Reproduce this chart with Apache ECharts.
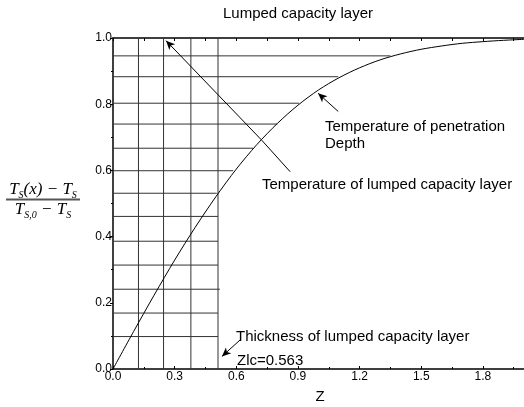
<!DOCTYPE html>
<html><head><meta charset="utf-8">
<script src="https://cdn.jsdelivr.net/npm/echarts@6/dist/echarts.min.js"></script>
<style>html,body{margin:0;padding:0;background:#fff}#c{width:524px;height:407px}</style>
</head><body><div id="c"></div>
<script>
// Curve: dimensionless temperature vs Z
const zValues     = [0, 0.1, 0.2, 0.3, 0.4, 0.5, 0.6, 0.7, 0.8, 0.9, 1.0, 1.1, 1.2, 1.3, 1.4, 1.5, 1.6, 1.7, 1.8, 1.9, 2.0];
const curveValues = [0, 0.113, 0.223, 0.329, 0.428, 0.520, 0.604, 0.678, 0.742, 0.797, 0.843, 0.880, 0.910, 0.934, 0.952, 0.966, 0.976, 0.984, 0.989, 0.993, 0.996];
// Vertical grid lines (Z positions)
const vLines = [0.124, 0.246, 0.379, 0.511];
// Horizontal grid lines: levels and where they stop on Z
const hLevels = [0.946, 0.883, 0.803, 0.740, 0.667, 0.599, 0.531, 0.461, 0.386, 0.314, 0.241, 0.169, 0.098];
const hEnds   = [1.350, 1.096, 0.905, 0.800, 0.682, 0.585, 0.505, 0.511, 0.511, 0.511, 0.520, 0.511, 0.511];
// Tick labels
const xTickLabels = ['0.0', '0.3', '0.6', '0.9', '1.2', '1.5', '1.8'];
const yTickLabels = ['0.0', '0.2', '0.4', '0.6', '0.8', '1.0'];
// Annotation arrows (data coordinates)
const lumpedPointer = [[0.862, 0.596], [0.724, 0.691], [0.258, 0.992]];
const penetrationArrow = [[1.096, 0.778], [0.998, 0.833]];
const thicknessArrow = [[0.619, 0.088], [0.530, 0.038]];

const SANS = 'Liberation Sans, Arial, sans-serif';
const SERIF = 'Liberation Serif, Times New Roman, serif';

const chart = echarts.init(document.getElementById('c'), null, {renderer: 'canvas'});

const gridLineStyle = {color: '#333', width: 1};
const series = [];
vLines.forEach(v => series.push({
  type: 'line', data: [[v, 0], [v, 1]], showSymbol: false, silent: true,
  lineStyle: gridLineStyle, z: 1
}));
hLevels.forEach((h, i) => series.push({
  type: 'line', data: [[0, h], [hEnds[i], h]], showSymbol: false, silent: true,
  lineStyle: gridLineStyle, z: 1
}));

const arrowLine = (a, b, arrow) => [
  {coord: a, symbol: 'none'},
  {coord: b, symbol: arrow ? 'arrow' : 'none', symbolSize: [6, 9]}
];

series.push({
  type: 'line',
  data: zValues.map((z, i) => [z, curveValues[i]]),
  smooth: 0.3, showSymbol: false, silent: true, z: 3,
  lineStyle: {color: '#000', width: 1},
  markLine: {
    silent: true, animation: false,
    label: {show: false},
    lineStyle: {color: '#000', width: 1, type: 'solid'},
    itemStyle: {color: '#000'},
    data: [
      arrowLine(lumpedPointer[0], lumpedPointer[1], false),
      arrowLine(lumpedPointer[1], lumpedPointer[2], true),
      arrowLine(penetrationArrow[0], penetrationArrow[1], true),
      arrowLine(thicknessArrow[0], thicknessArrow[1], true)
    ]
  }
});

const txt = (text, x, y, size, align) => ({
  type: 'text', x: x, y: y, silent: true,
  style: {text: text, fill: '#000', font: size + 'px ' + SANS, textAlign: align || 'left', textVerticalAlign: 'middle'}
});

const fracRich = {
  T: {fontFamily: SERIF, fontStyle: 'italic', fontSize: 17, lineHeight: 20, color: '#000'},
  n: {fontFamily: SERIF, fontStyle: 'italic', fontSize: 17, lineHeight: 20, color: '#000'},
  s: {fontFamily: SERIF, fontStyle: 'italic', fontSize: 10, lineHeight: 10, verticalAlign: 'bottom', color: '#000'}
};

chart.setOption({
  animation: false,
  backgroundColor: '#fff',
  grid: {left: 113, right: 0, top: 38, bottom: 38, containLabel: false, outerBoundsMode: 'none'},
  xAxis: [{
    type: 'value', position: 'bottom', min: 0, max: 2.0, interval: 0.3,
    axisLine: {show: true, onZero: false, lineStyle: {color: '#000', width: 1.5}},
    axisTick: {show: true, inside: true, length: 3, lineStyle: {color: '#000'}},
    minorTick: {show: true, splitNumber: 2, length: 2, lineStyle: {color: '#000'}},
    splitLine: {show: false}, minorSplitLine: {show: false},
    axisLabel: {
      margin: 2, color: '#000', fontFamily: SANS, fontSize: 12,
      formatter: v => { const i = Math.round(v / 0.3); return (Math.abs(v - i * 0.3) < 1e-6 && xTickLabels[i]) ? xTickLabels[i] : ''; }
    }
  }, {
    type: 'value', position: 'top', min: 0, max: 2.0, interval: 0.3,
    axisLine: {show: true, onZero: false, lineStyle: {color: '#000', width: 1.5}},
    axisTick: {show: true, inside: true, length: 3, lineStyle: {color: '#000'}},
    minorTick: {show: true, splitNumber: 2, length: 3, lineStyle: {color: '#000'}},
    splitLine: {show: false}, axisLabel: {show: false}
  }],
  yAxis: {
    type: 'value', min: 0, max: 1.0, interval: 0.2,
    axisLine: {show: true, onZero: false, lineStyle: {color: '#000', width: 1.5}},
    axisTick: {show: true, inside: false, length: 3, lineStyle: {color: '#000'}},
    minorTick: {show: true, splitNumber: 2, length: 2, lineStyle: {color: '#000'}},
    splitLine: {show: false}, minorSplitLine: {show: false},
    axisLabel: {
      margin: 1, color: '#000', fontFamily: SANS, fontSize: 12,
      formatter: v => yTickLabels[Math.round(v / 0.2)] || ''
    }
  },
  series: series,
  graphic: [
    txt('Lumped capacity layer', 298, 14, 15, 'center'),
    txt('Temperature of penetration', 325, 127, 15),
    txt('Depth', 325, 144, 15),
    txt('Temperature of lumped capacity layer', 262, 185, 15),
    txt('Thickness of lumped capacity layer', 236, 337, 15),
    txt('Zlc=0.563', 237, 361, 15),
    txt('Z', 320, 397, 15, 'center'),
    {type: 'text', x: 43, y: 190, silent: true,
     style: {text: '{T|T}{s|S}{n|(x) − }{T|T}{s|S}', rich: fracRich, textAlign: 'center', textVerticalAlign: 'middle'}},
    {type: 'line', silent: true, shape: {x1: 6, y1: 199.5, x2: 80, y2: 199.5}, style: {stroke: '#555', lineWidth: 2}},
    {type: 'text', x: 43, y: 210, silent: true,
     style: {text: '{T|T}{s|S,0}{n| − }{T|T}{s|S}', rich: fracRich, textAlign: 'center', textVerticalAlign: 'middle'}}
  ]
});
</script></body></html>
